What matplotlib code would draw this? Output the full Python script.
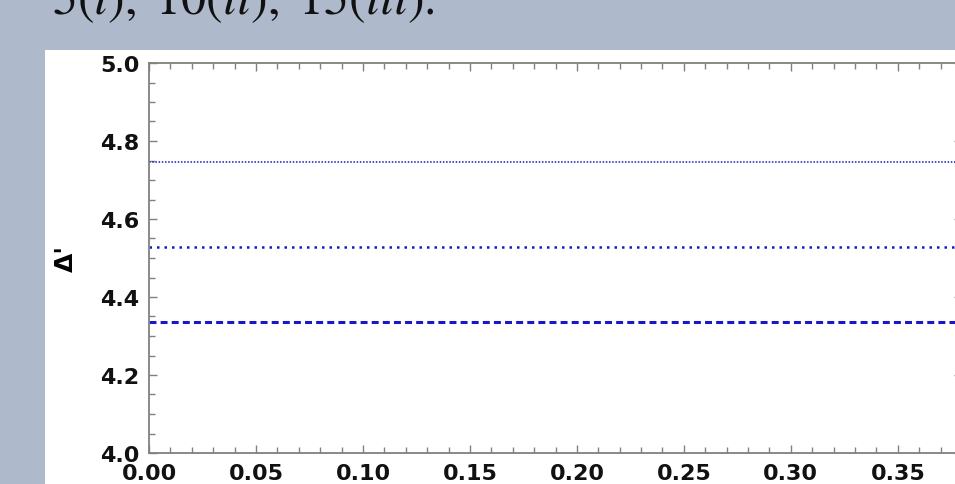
import numpy as np
import matplotlib.pyplot as plt
from matplotlib.ticker import MultipleLocator

plt.rcParams['mathtext.fontset'] = 'stix'
plt.rcParams['lines.scale_dashes'] = False
plt.rcParams['font.family'] = 'DejaVu Sans'

# horizontal lines: Delta' vs x
x_range = [0.0, 0.40]
delta_vals = [4.746, 4.528, 4.336]
title_txt = r"$5(i),\ 10(ii),\ 15(iii)$."

# dash patterns (points) for the three curves
styles = [(0, (1.1, 1.2)), (0, (1.8, 3.6)), (0, (5.0, 3.0))]
widths = [1.1, 1.8, 2.2]
blue = '#1818c8'

fig = plt.figure(figsize=(9.55, 4.85), dpi=100)
fig.patch.set_facecolor('#aeb9cb')

W, H = 955, 485
# white panel behind the plot
bg = fig.add_axes([45 / W, 0, 1 - 45 / W, (H - 51) / H], zorder=-1)
bg.set_facecolor('white')
bg.set_xticks([])
bg.set_yticks([])
for s in bg.spines.values():
    s.set_visible(False)

fig.text(52 / W, (H - 14) / H, title_txt, fontsize=36, color='#111111',
         family='STIXGeneral', va='baseline', ha='left')

ax = fig.add_axes([149 / W, (H - 454) / H, (962 - 149) / W, (454 - 64) / H])
ax.set_facecolor('white')

for yv, ls, lw in zip(delta_vals, styles, widths):
    ax.plot(x_range, [yv, yv], color=blue, linestyle=ls, linewidth=lw,
            dash_capstyle='butt')

ax.set_xlim(0, 0.38)
ax.set_ylim(4.0, 5.0)
ax.xaxis.set_major_locator(MultipleLocator(0.05))
ax.xaxis.set_minor_locator(MultipleLocator(0.01))
ax.yaxis.set_major_locator(MultipleLocator(0.2))
ax.yaxis.set_minor_locator(MultipleLocator(0.05))
ax.xaxis.set_major_formatter(plt.FormatStrFormatter('%.2f'))
ax.yaxis.set_major_formatter(plt.FormatStrFormatter('%.1f'))

for s in ax.spines.values():
    s.set_color('#808080')
    s.set_linewidth(1.3)

ax.tick_params(which='both', direction='in', top=True, right=True,
               color='#808080', width=1.0, labelsize=16, labelcolor='#111111')
ax.tick_params(which='major', length=6)
ax.tick_params(which='minor', length=4)
ax.tick_params(axis='y', which='major', pad=7)
ax.tick_params(axis='x', which='major', pad=7)
for lab in ax.get_xticklabels() + ax.get_yticklabels():
    lab.set_fontweight('bold')

ax.set_ylabel("Δ'", fontweight='bold', fontsize=18, labelpad=16)

fig.savefig('out.png', dpi=100, facecolor=fig.get_facecolor())
